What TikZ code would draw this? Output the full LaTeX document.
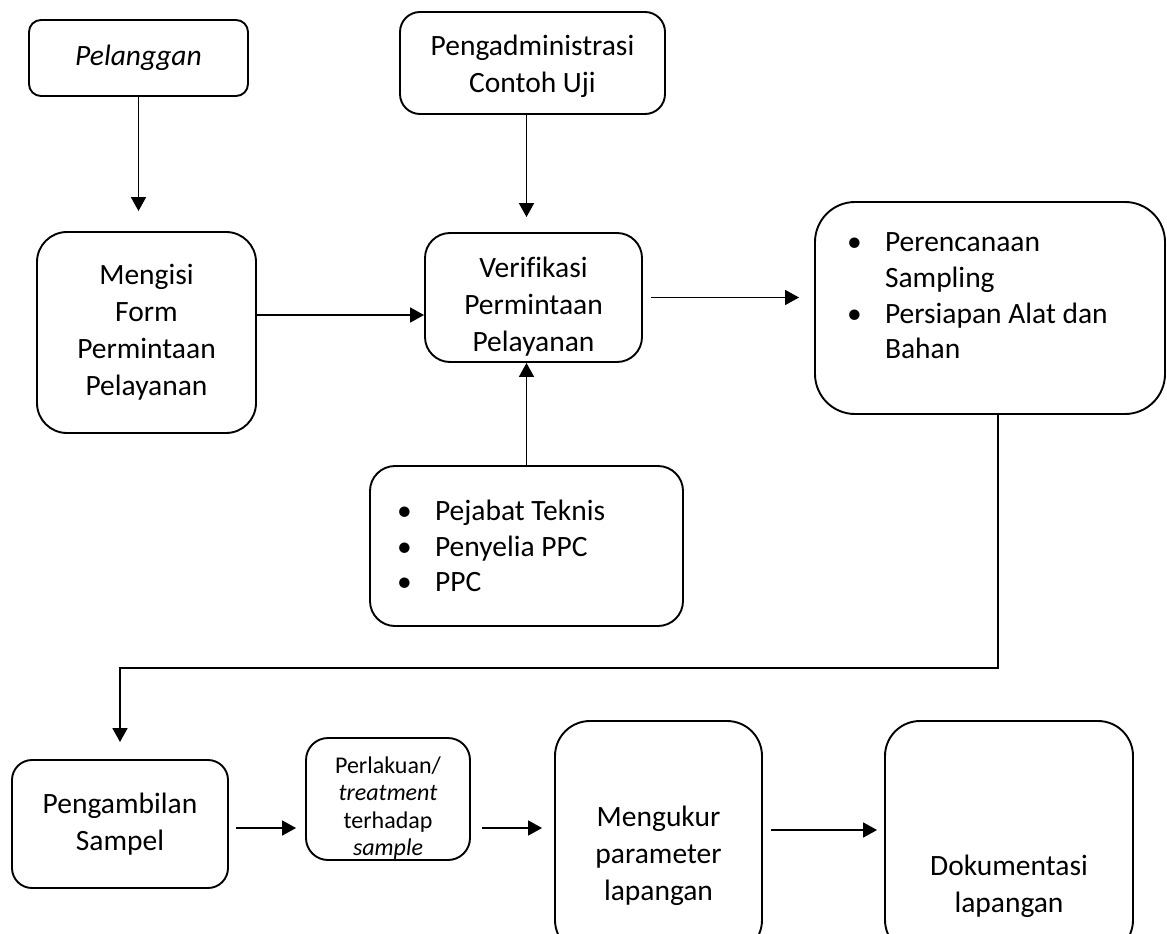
\documentclass[tikz,border=0pt]{standalone}
\usepackage{fontspec}
\setmainfont{Carlito}[Ligatures=NoCommon]
\usepackage{tikz}
\usetikzlibrary{arrows.meta, positioning}
\tikzset{
  flowbox/.style={draw, line width=1.9pt, rounded corners=#1, align=center,
    inner sep=0pt, font=\fontsize{29.5}{37}\selectfont},
  flowbox/.default=25pt,
  flowtext/.style={align=center, inner sep=0pt, font=\fontsize{29.5}{37}\selectfont},
  flowarrow/.style={-{Triangle[length=14pt,width=15pt]}, line width=1.7pt}
}
\newcommand{\blt}{\makebox[38pt][l]{\textbullet}}
\newcommand{\bltind}{\hspace*{38pt}}

\begin{document}
\begin{tikzpicture}[x=1pt, y=-1pt]
  \useasboundingbox (0,0) rectangle (1167,934);
  % top row
  \node[flowbox=12pt, minimum width=219pt, minimum height=76pt] (pelanggan) at (138.5,58) {\textit{Pelanggan}};
  \node[flowbox=20pt, minimum width=265pt, minimum height=102pt,
    label={[flowtext, yshift=-3pt]center:{Pengadministrasi\\Contoh Uji}}] (admin) at (532.5,63) {};
  % middle row
  \node[flowbox=30pt, minimum width=219pt, minimum height=201pt] (form) at (146.5,332.5) {Mengisi\\Form\\Permintaan\\Pelayanan};
  \node[flowbox, minimum width=217pt, minimum height=129pt,
    label={[flowtext, yshift=-9pt]center:{Verifikasi\\Permintaan\\Pelayanan}}] (verif) at (533.5,297.5) {};
  \node[flowbox=40pt, minimum width=350pt, minimum height=212pt,
    label={[flowtext, align=flush left, text width=286pt, yshift=12pt,
      font=\fontsize{29.5}{35.7}\selectfont]center:{\blt Perencanaan\\\bltind Sampling\\\blt Persiapan Alat dan\\\bltind Bahan}}]
    (rencana) at (990,308) {};
  \node[flowbox, minimum width=313pt, minimum height=160pt, text width=259pt, align=flush left,
    font=\fontsize{29.5}{35.5}\selectfont] (pejabat) at (526.5,546)
    {\blt Pejabat Teknis\\\blt Penyelia PPC\\\blt PPC};
  % bottom row
  \node[flowbox=20pt, minimum width=216pt, minimum height=128pt] (ambil) at (120,824) {Pengambilan\\Sampel};
  \node[flowbox=22pt, minimum width=164pt, minimum height=122pt,
    label={[flowtext, yshift=-9pt, font=\fontsize{24}{27.3}\selectfont]center:{Perlakuan/\\\textit{treatment}\\terhadap\\\textit{sample}}}]
    (treat) at (388,799) {};
  \node[flowbox=35pt, minimum width=207pt, minimum height=234pt,
    label={[flowtext, yshift=-18pt]center:{Mengukur\\parameter\\lapangan}}] (ukur) at (658.5,838) {};
  \node[flowbox=35pt, minimum width=248pt, minimum height=234pt,
    label={[flowtext, yshift=-48pt]center:{Dokumentasi\\lapangan}}] (dok) at (1009,838) {};
  % arrows
  \draw[flowarrow, shorten >=20pt] (pelanggan.south) -- (pelanggan.south |- form.north);
  \draw[flowarrow] (form.east |- 0,315) -- (verif.west |- 0,315);
  \draw[flowarrow, shorten >=15pt] (admin.south -| pejabat.north) -- (pejabat.north |- verif.north);
  \draw[flowarrow] (pejabat.north) -- (pejabat.north |- verif.south);
  \draw[flowarrow, shorten <=8pt, shorten >=15pt] (verif.east) -- (verif.east -| rencana.west);
  \coordinate (belok) at (998,668);
  \draw[flowarrow, shorten >=17pt] (rencana.south -| belok) -- (belok) -| (ambil.north);
  \draw[flowarrow, shorten <=7pt, shorten >=9pt] (ambil.east |- 0,828) -- (treat.west |- 0,828);
  \draw[flowarrow, shorten <=11pt, shorten >=12pt] (treat.east |- 0,828) -- (ukur.west |- 0,828);
  \draw[flowarrow, shorten <=8pt, shorten >=7pt] (ukur.east |- 0,830) -- (dok.west |- 0,830);
\end{tikzpicture}
\end{document}
